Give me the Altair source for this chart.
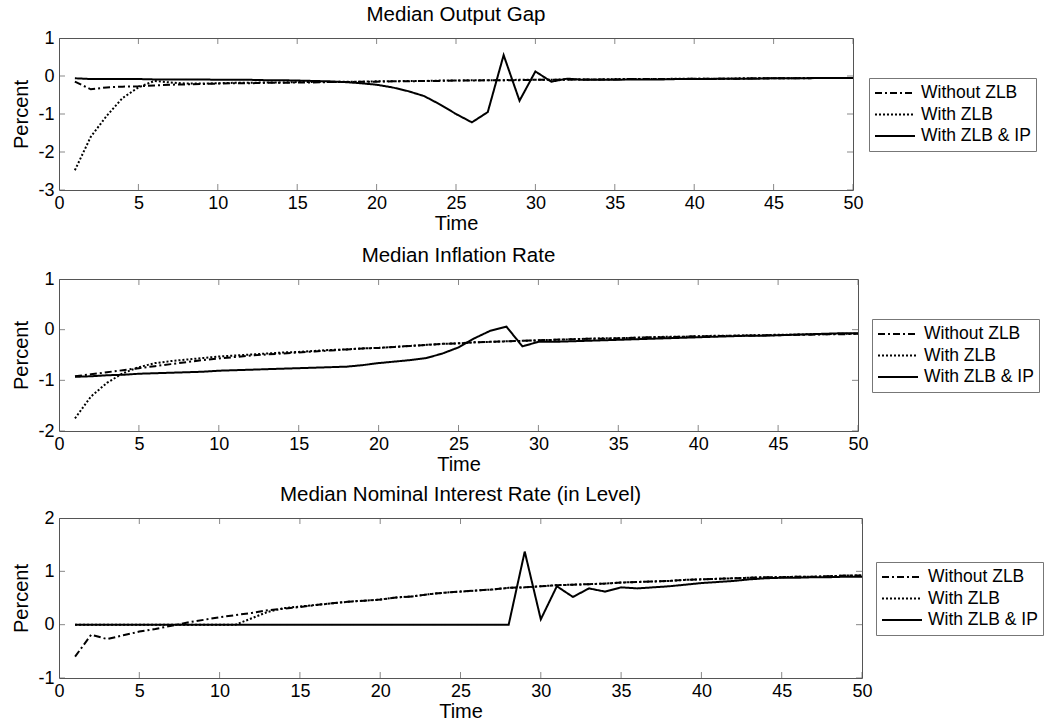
import altair as alt
import pandas as pd

FONT = "Liberation Sans"
T = list(range(1, 51))
SERIES = ["Without ZLB", "With ZLB", "With ZLB & IP"]
DASHES = [[7, 3, 2, 3], [2, 2], [1, 0]]
X_TICKS = [0, 5, 10, 15, 20, 25, 30, 35, 40, 45, 50]

# ---- Median Output Gap ----
gap_without = [-0.15, -0.35, -0.30, -0.28, -0.27, -0.25, -0.23, -0.22, -0.21, -0.20,
               -0.19, -0.19, -0.18, -0.18, -0.17, -0.17, -0.16, -0.16, -0.15, -0.15,
               -0.14, -0.14, -0.13, -0.13, -0.12, -0.12, -0.11, -0.11, -0.11, -0.10,
               -0.10, -0.10, -0.09, -0.09, -0.09, -0.08, -0.08, -0.08, -0.08, -0.07,
               -0.07, -0.07, -0.07, -0.06, -0.06, -0.06, -0.06, -0.05, -0.05, -0.05]
gap_zlb = [-2.48, -1.60, -1.05, -0.58, -0.30, -0.13, -0.17, -0.20, -0.20, -0.19,
           -0.18, -0.18, -0.17, -0.17, -0.16, -0.16, -0.16, -0.15, -0.15, -0.14,
           -0.14, -0.13, -0.13, -0.12, -0.12, -0.11, -0.11, -0.11, -0.10, -0.10,
           -0.10, -0.09, -0.09, -0.09, -0.08, -0.08, -0.08, -0.08, -0.07, -0.07,
           -0.07, -0.07, -0.06, -0.06, -0.06, -0.06, -0.05, -0.05, -0.05, -0.05]
gap_ip = [-0.06, -0.08, -0.08, -0.08, -0.08, -0.09, -0.09, -0.09, -0.09, -0.10,
          -0.10, -0.10, -0.11, -0.11, -0.12, -0.13, -0.14, -0.16, -0.19, -0.23,
          -0.30, -0.40, -0.53, -0.75, -1.00, -1.22, -0.95, 0.55, -0.65, 0.12,
          -0.15, -0.07, -0.10, -0.10, -0.10, -0.09, -0.09, -0.09, -0.08, -0.08,
          -0.08, -0.07, -0.07, -0.07, -0.06, -0.06, -0.06, -0.05, -0.05, -0.05]

# ---- Median Inflation Rate ----
inf_without = [-0.92, -0.88, -0.84, -0.80, -0.76, -0.72, -0.68, -0.64, -0.60, -0.57,
               -0.54, -0.51, -0.49, -0.47, -0.45, -0.43, -0.41, -0.39, -0.37, -0.36,
               -0.34, -0.32, -0.30, -0.28, -0.27, -0.25, -0.24, -0.23, -0.22, -0.21,
               -0.20, -0.19, -0.18, -0.18, -0.17, -0.16, -0.15, -0.15, -0.14, -0.13,
               -0.13, -0.12, -0.12, -0.11, -0.11, -0.10, -0.10, -0.09, -0.09, -0.08]
inf_zlb = [-1.75, -1.32, -1.05, -0.86, -0.74, -0.66, -0.62, -0.59, -0.56, -0.53,
           -0.51, -0.49, -0.47, -0.45, -0.44, -0.42, -0.40, -0.39, -0.37, -0.36,
           -0.34, -0.32, -0.30, -0.28, -0.27, -0.25, -0.24, -0.23, -0.22, -0.21,
           -0.20, -0.19, -0.18, -0.17, -0.17, -0.16, -0.15, -0.14, -0.14, -0.13,
           -0.12, -0.12, -0.11, -0.11, -0.10, -0.10, -0.09, -0.09, -0.08, -0.08]
inf_ip = [-0.93, -0.92, -0.90, -0.89, -0.87, -0.86, -0.85, -0.84, -0.83, -0.81,
          -0.80, -0.79, -0.78, -0.77, -0.76, -0.75, -0.74, -0.73, -0.70, -0.66,
          -0.63, -0.60, -0.56, -0.47, -0.35, -0.17, -0.02, 0.06, -0.33, -0.24,
          -0.24, -0.23, -0.22, -0.21, -0.20, -0.19, -0.18, -0.17, -0.16, -0.15,
          -0.14, -0.13, -0.12, -0.12, -0.11, -0.10, -0.09, -0.08, -0.07, -0.07]

# ---- Median Nominal Interest Rate (in Level) ----
int_without = [-0.60, -0.19, -0.27, -0.20, -0.13, -0.08, -0.02, 0.04, 0.09, 0.14,
               0.18, 0.22, 0.27, 0.30, 0.33, 0.37, 0.40, 0.43, 0.45, 0.47,
               0.51, 0.53, 0.57, 0.60, 0.62, 0.64, 0.66, 0.69, 0.70, 0.72,
               0.74, 0.75, 0.76, 0.77, 0.79, 0.80, 0.81, 0.82, 0.84, 0.85,
               0.86, 0.87, 0.88, 0.89, 0.89, 0.90, 0.90, 0.91, 0.92, 0.92]
int_zlb = [0.00, 0.00, 0.00, 0.00, 0.00, 0.00, 0.00, 0.00, 0.00, 0.00,
           0.00, 0.12, 0.24, 0.31, 0.34, 0.37, 0.40, 0.43, 0.45, 0.47,
           0.51, 0.53, 0.57, 0.60, 0.62, 0.64, 0.66, 0.69, 0.70, 0.72,
           0.74, 0.75, 0.76, 0.77, 0.79, 0.80, 0.81, 0.82, 0.84, 0.85,
           0.86, 0.87, 0.88, 0.89, 0.89, 0.90, 0.90, 0.91, 0.92, 0.92]
int_ip = [0.00, 0.00, 0.00, 0.00, 0.00, 0.00, 0.00, 0.00, 0.00, 0.00,
          0.00, 0.00, 0.00, 0.00, 0.00, 0.00, 0.00, 0.00, 0.00, 0.00,
          0.00, 0.00, 0.00, 0.00, 0.00, 0.00, 0.00, 0.00, 1.37, 0.10,
          0.72, 0.52, 0.68, 0.62, 0.70, 0.68, 0.70, 0.72, 0.75, 0.78,
          0.80, 0.82, 0.85, 0.87, 0.88, 0.88, 0.89, 0.89, 0.90, 0.90]


def long_df(vals):
    rows = []
    for name, series in zip(SERIES, vals):
        for ti, v in zip(T, series):
            rows.append({"t": ti, "value": v, "series": name})
    return pd.DataFrame(rows)


def panel(title, vals, ydomain, yticks, width, height, lx, ly):
    df = long_df(vals)
    xscale = alt.Scale(domain=[0, 50], nice=False, zero=False)
    yscale = alt.Scale(domain=ydomain, nice=False, zero=False)
    x_axis = alt.Axis(values=X_TICKS, title="Time", grid=False, domain=False, ticks=False,
                      labelFont=FONT, labelFontSize=18, labelColor="black", labelPadding=4,
                      labelFlush=False, labelOverlap=False,
                      titleFont=FONT, titleFontSize=20, titleFontWeight="normal",
                      titleColor="black", titlePadding=1)
    y_axis = alt.Axis(values=yticks, title="Percent", grid=False, domain=False, ticks=False,
                      labelExpr="'' + datum.value",
                      labelFont=FONT, labelFontSize=18, labelColor="black", labelPadding=5,
                      labelFlush=False, labelOverlap=False,
                      titleFont=FONT, titleFontSize=20, titleFontWeight="normal",
                      titleColor="black", titlePadding=6)
    legend = alt.Legend(title=None, orient="none", legendX=lx, legendY=ly,
                        strokeColor="#777", fillColor="white", padding=5,
                        labelFont=FONT, labelFontSize=17.5, labelColor="black",
                        symbolType="stroke", symbolStrokeWidth=2, symbolSize=1600,
                        symbolStrokeColor="black", clipHeight=20, rowPadding=1.5,
                        labelOffset=5, symbolOffset=0)
    lines = alt.Chart(df).mark_line(color="black", strokeWidth=2, clip=True).encode(
        x=alt.X("t:Q", scale=xscale, axis=x_axis),
        y=alt.Y("value:Q", scale=yscale, axis=y_axis),
        strokeDash=alt.StrokeDash("series:N", sort=SERIES,
                                  scale=alt.Scale(domain=SERIES, range=DASHES),
                                  legend=legend),
    )
    xt = pd.DataFrame({"t": X_TICKS})
    yt = pd.DataFrame({"value": yticks})
    tick_style = dict(color="#555", thickness=1, size=12, clip=True)
    top = alt.Chart(xt).mark_tick(orient="vertical", **tick_style).encode(
        x=alt.X("t:Q", scale=xscale, axis=x_axis),
        y=alt.Y(datum=ydomain[1], type="quantitative", scale=yscale, axis=y_axis))
    bottom = alt.Chart(xt).mark_tick(orient="vertical", **tick_style).encode(
        x=alt.X("t:Q", scale=xscale, axis=x_axis),
        y=alt.Y(datum=ydomain[0], type="quantitative", scale=yscale, axis=y_axis))
    left = alt.Chart(yt).mark_tick(orient="horizontal", **tick_style).encode(
        y=alt.Y("value:Q", scale=yscale, axis=y_axis),
        x=alt.X(datum=0, type="quantitative", scale=xscale, axis=x_axis))
    right = alt.Chart(yt).mark_tick(orient="horizontal", **tick_style).encode(
        y=alt.Y("value:Q", scale=yscale, axis=y_axis),
        x=alt.X(datum=50, type="quantitative", scale=xscale, axis=x_axis))
    return alt.layer(lines, top, bottom, left, right).properties(
        width=width, height=height,
        title=alt.TitleParams(text=title, font=FONT, fontSize=20.5, fontWeight="normal",
                              color="black", anchor="middle", offset=4),
    )


p1 = panel("Median Output Gap", [gap_without, gap_zlb, gap_ip], [-3, 1],
           [-3, -2, -1, 0, 1], 794, 152, 810, 40)
p2 = panel("Median Inflation Rate", [inf_without, inf_zlb, inf_ip], [-2, 1],
           [-2, -1, 0, 1], 799, 152, 813, 40)
p3 = panel("Median Nominal Interest Rate (in Level)", [int_without, int_zlb, int_ip], [-1, 2],
           [-1, 0, 1, 2], 803, 160, 817, 44)

top_pair = alt.vconcat(p1, p2, spacing=11).resolve_scale(
    strokeDash="independent").resolve_legend(strokeDash="independent")

chart = alt.vconcat(top_pair, p3, spacing=9).resolve_scale(
    strokeDash="independent").resolve_legend(strokeDash="independent").properties(
    padding={"left": 11, "top": 4, "right": 5, "bottom": 2},
    background="white",
).configure_view(stroke="#555", strokeWidth=1)

chart.save("out.html", embed_options={"renderer": "svg", "actions": False})
